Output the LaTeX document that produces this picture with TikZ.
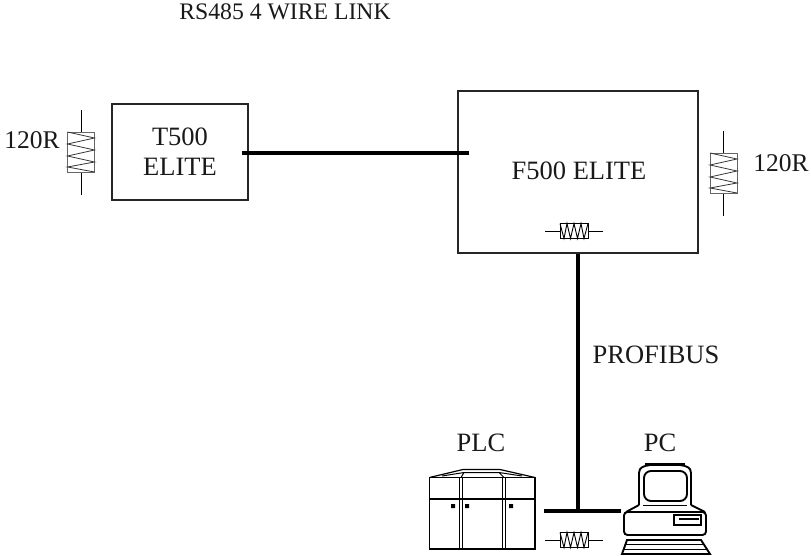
\documentclass[tikz,border=0pt]{standalone}
\usepackage{fontspec}
\setmainfont{Liberation Serif}
\tikzset{
  lbl/.style={font=\fontsize{26.5}{30}\selectfont,inner sep=0pt,align=center,text=black!90},
  box/.style={draw=black!85,line width=1.8pt,fill=none,inner sep=0pt},
  bus/.style={line width=4pt,black},
  wire/.style={line width=.8pt,black},
  rbody/.style={draw=black!60,line width=.8pt},
  zig/.style={line width=.8pt,black!80},
  ink/.style={line width=1.9pt,black},
}
\newcommand{\vres}[2]{%
  \draw[wire] (#1,#2-42) -- (#1,#2-20) (#1,#2+20) -- (#1,#2+43);
  \draw[rbody] (#1-13.5,#2-20) rectangle (#1+13.5,#2+20);
  \draw[zig] (#1-13.5,#2-20) -- (#1+13.5,#2-14) -- (#1-13.5,#2-8) -- (#1+13.5,#2-2) -- (#1-13.5,#2+4) -- (#1+13.5,#2+10) -- (#1-13.5,#2+15) -- (#1+13.5,#2+20);
}
\newcommand{\hres}[2]{%
  \draw[wire] (#1-29,#2) -- (#1-14,#2) (#1+14,#2) -- (#1+29,#2);
  \draw[line width=.9pt] (#1-14,#2-7.5) rectangle (#1+14,#2+7.5);
  \draw[line width=.9pt] (#1-14,#2-7.5) -- (#1-10,#2+7.5) -- (#1-7,#2-7.5) -- (#1-3.5,#2+7.5) -- (#1,#2-7.5) -- (#1+3.5,#2+7.5) -- (#1+7,#2-7.5) -- (#1+10,#2+7.5) -- (#1+14,#2-7.5);
}
\begin{document}
\begin{tikzpicture}[x=1pt,y=-1pt]
\useasboundingbox (0,0) rectangle (811,556);
\node[lbl,font=\fontsize{23.7}{28}\selectfont] (title) at (285,12) {RS485 4 WIRE LINK};
\node[box,minimum width=136pt,minimum height=96pt] (t500) at (180,152) {};
\node[lbl] (t500t) at (180,152) {T500\\ELITE};
\node[box,minimum width=240pt,minimum height=162pt] (f500) at (578,172) {};
\node[lbl] (f500t) at (579,171) {F500 ELITE};
\node[lbl,font=\fontsize{25.5}{30}\selectfont] (r1) at (32,140) {120R};
\node[lbl,font=\fontsize{25.5}{30}\selectfont] (r2) at (781,163) {120R};
\node[lbl] (prof) at (656,355) {PROFIBUS};
\node[lbl] (plc) at (481,443) {PLC};
\node[lbl] (pc) at (660,443) {PC};
\vres{81}{152}
\vres{723.5}{173}
\hres{574}{231}
\hres{574}{540}
\coordinate (lkA) at (242,153);
\coordinate (lkB) at (469,153);
\coordinate (busT) at (578,254);
\coordinate (busB) at (578,511);
\coordinate (hA) at (544,511);
\coordinate (hB) at (621,511);
\draw[bus] (lkA) -- (lkB);
\draw[bus] (busT) -- (busB);
\draw[bus] (hA) -- (hB);
% PLC
\draw[ink] (429.5,477.5) rectangle (535,549);
\draw[ink] (429.5,499) -- (535,499);
\draw[line width=1.2pt] (459.5,477.5) -- (459.5,549) (462.5,477.5) -- (462.5,549) (502.5,477.5) -- (502.5,549) (505.5,477.5) -- (505.5,549);
\draw[line width=1.2pt] (429.5,477.5) -- (463,469.5) -- (500,469.5) -- (535,477.5);
\draw[line width=1pt] (442,476) -- (464,472.5) -- (499,472.5) -- (522,476) (464,472.5) -- (461,477.5) (499,472.5) -- (504,477.5);
\fill (451,504) rectangle (455,508) (465,504) rectangle (469,508) (509,504) rectangle (513,508);
% PC
\draw[ink,line join=round] (639,505) -- (639,473) .. controls (639,467) and (644,466) .. (650,465) -- (680,465) .. controls (686,466) and (691,467) .. (691,473) -- (691,505);
\draw[line width=2.5pt] (645,464.5) -- (685,464.5);
\draw[ink,rounded corners=7pt] (644,471) rectangle (687,501);
\draw[ink] (643,505.5) -- (687,505.5);
\draw[ink] (639,505) -- (626,512) (691,505) -- (705,512);
\draw[ink,rounded corners=3.5pt] (624,512) rectangle (706,535);
\draw[line width=1.4pt] (674,515) rectangle (701,525);
\draw[line width=1.6pt] (679,519) -- (699,519);
\draw[ink] (627,540) -- (701,540) -- (710,554) -- (622,554) -- cycle;
\draw[ink] (625,544.5) -- (704,544.5) (623,549.5) -- (707,549.5);
\end{tikzpicture}
\end{document}
